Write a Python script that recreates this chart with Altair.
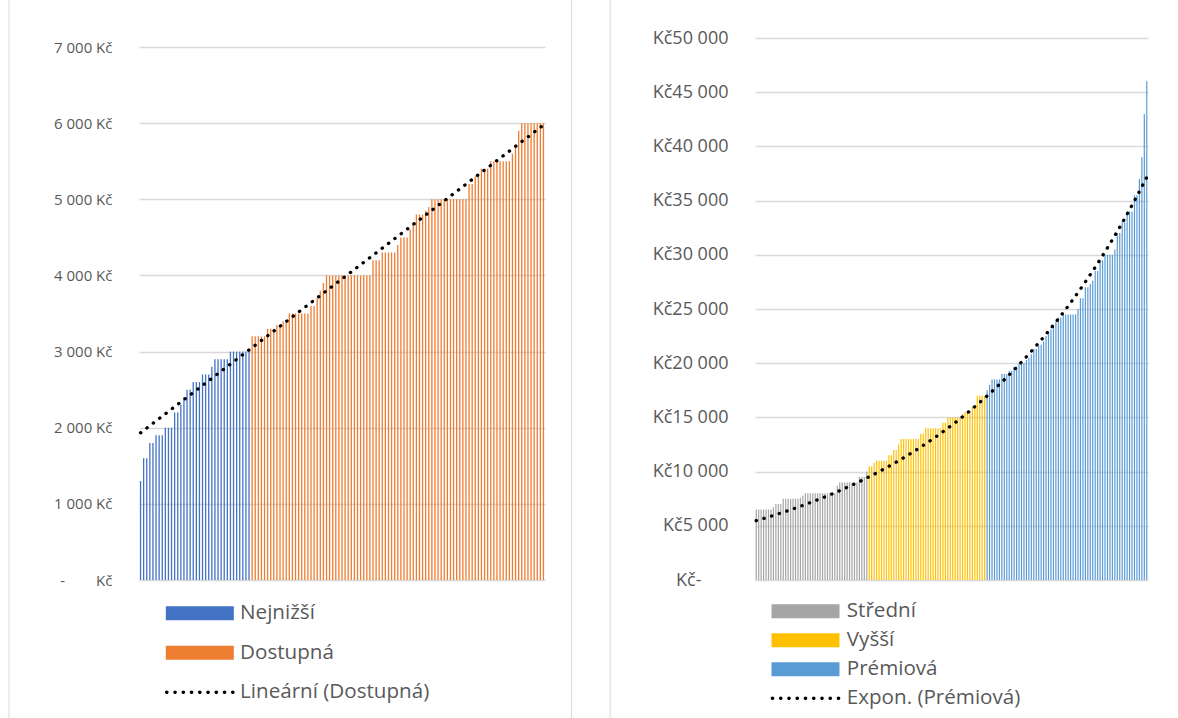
import altair as alt
import pandas as pd

# ---------------- data ----------------
left_nejnizsi = [1300, 1600, 1600, 1800, 1800, 1900, 1900, 1900, 2000, 2000, 2000, 2200, 2200,
                 2300, 2400, 2500, 2500, 2600, 2600, 2600, 2700, 2700, 2700, 2800, 2900, 2900,
                 2900, 2900, 2900, 3000, 3000, 3000, 3000, 3000, 3000, 3000]
left_dostupna = ([3200] * 5 + [3300] * 3 + [3350] * 2 + [3400] * 2 + [3500] * 7 + [3600] * 2 +
                 [3700, 3800, 3900] + [4000] * 15 + [4200] * 3 + [4300] * 5 + [4400] +
                 [4500] * 3 + [4600, 4700] + [4800] * 3 + [4850, 4900] + [5000] * 12 +
                 [5200] * 2 + [5300] * 2 + [5400] * 3 + [5500] * 7 + [5600, 5700, 5900] + [6000] * 8)

right_stredni = ([6500] * 7 + [6700] + [7000] * 3 + [7500] * 7 + [7600, 7800] + [8000] * 13 +
                 [8700] + [9000] * 8 + [9500] * 3 + [10000])
right_vyssi = ([10500, 10500, 10800, 11000, 11000, 11000, 11000, 11000, 11500, 11500, 12000, 12000,
                12500] + [13000] * 8 + [13500] * 2 + [14000] * 7 + [14500] * 2 + [15000] * 6 +
               [15300, 15500, 15500, 15600, 16000, 16000] + [17000] * 4)
right_premiova = [17500, 18000, 18500, 18500, 18500, 18500, 19000, 19000, 19000, 19300, 19300,
                  19700, 19700, 20000, 20000, 20000, 20300, 20500, 20800, 21300, 21300, 21600,
                  21700, 22000, 22500, 22800, 23100, 23500, 23800, 24200, 24200, 24500, 24500,
                  24500, 24500, 24500, 24500, 25000, 26000, 26000, 27000, 27000, 27300, 27600,
                  28500, 28500, 29500, 29500, 30000, 30000, 30000, 30000, 30500, 32000, 32000,
                  33000, 33000, 34000, 34000, 34000, 35500, 35500, 37000, 39000, 43000, 46000]

left_names = ["Nejnižší", "Dostupná", "Lineární (Dostupná)"]
left_colors = ["#4472C4", "#ED7D31", "#000000"]
right_names = ["Střední", "Vyšší", "Prémiová", "Expon. (Prémiová)"]
right_colors = ["#A5A5A5", "#FFC000", "#5B9BD5", "#000000"]

left_ticks = list(range(0, 7001, 1000))
right_ticks = list(range(0, 50001, 5000))


def frame(groups):
    rows, k = [], 0
    for name, vals in groups:
        for v in vals:
            rows.append({"k": k, "v": v, "series": name})
            k += 1
    return pd.DataFrame(rows)


left_df = frame([(left_names[0], left_nejnizsi), (left_names[1], left_dostupna)])
right_df = frame([(right_names[0], right_stredni), (right_names[1], right_vyssi),
                  (right_names[2], right_premiova)])
nL, nR = len(left_df), len(right_df)

# ---------------- styling ----------------
FONT = "Open Sans"
GREY = "#595959"
GRID = "#D9D9D9"
NB = "\u00a0"

# legend symbols (unit = sqrt(size)/2 px = 7 px)
RECT = "M-4.857,-1H4.857V1H-4.857Z"
r = 0.257
DOTS = ""
for i in range(9):
    cx = -4.714 + i * 1.1786
    DOTS += f"M{cx - r:.3f},0a{r},{r} 0 1,0 {2 * r:.3f},0a{r},{r} 0 1,0 {-2 * r:.3f},0Z"

DASH = dict(color="black", strokeWidth=3.3, strokeDash=[0.3, 7.7], strokeCap="round")

H = 542


def legend(x, y, rowpad, offset):
    return alt.Legend(title=None, orient="none", legendX=x, legendY=y, direction="vertical",
                      symbolSize=196, symbolStrokeWidth=0, symbolOpacity=1,
                      labelFont=FONT, labelFontSize=20.6, labelColor=GREY, labelOffset=offset,
                      labelLimit=400, rowPadding=rowpad, padding=0)


def border_layer(xs):
    df = pd.DataFrame({"b": [0]})
    return [alt.Chart(df).mark_rule(color=GRID, strokeWidth=1).encode(
        x=alt.value(xv), y=alt.value(-37.5), y2=alt.value(681)) for xv in xs]


def bar_layers(df, names, colors, w, x, y):
    return [alt.Chart(df).transform_filter(alt.datum.series == nm).mark_bar(
        width=w, color=c).encode(x=x, y=y) for nm, c in zip(names, colors)]


# ---------------- left chart ----------------
xL = alt.X("k:Q", scale=alt.Scale(domain=[-0.5, nL - 0.5], nice=False, zero=False, padding=0),
           axis=None)
left_label = (f"datum.value == 0 ? '-{NB * 8}Kč' : "
              f"replace(format(datum.value, ',.0f'), ',', '{NB}') + '{NB}Kč'")
yL = alt.Y("v:Q", scale=alt.Scale(domain=[0, 7119], nice=False),
           axis=alt.Axis(values=left_ticks, labelExpr=left_label, title=None, domain=False,
                         ticks=False, grid=True, gridColor=GRID, gridWidth=1.5,
                         labelFont=FONT, labelFontSize=15, labelColor=GREY, labelPadding=27))
cL = alt.Scale(domain=left_names, range=left_colors)
sL = alt.Scale(domain=left_names, range=[RECT, RECT, DOTS])
legL = legend(50.5, 565, 18.5, 30)

bars_L = bar_layers(left_df, left_names[:2], left_colors[:2], 1.3, xL, yL)
trend_L = alt.Chart(left_df).transform_filter(
    alt.datum.series == left_names[1]
).transform_regression("k", "v", extent=[0, nL - 1]).mark_line(**DASH).encode(
    x="k:Q", y="v:Q")
leg_L = alt.Chart(pd.DataFrame({"series": left_names})).mark_point(
    opacity=0, filled=True).encode(
    color=alt.Color("series:N", scale=cL, legend=legL),
    shape=alt.Shape("series:N", scale=sL, legend=legL))

left = alt.layer(*bars_L, trend_L, leg_L, *border_layer([-130, 432.5])).properties(
    width=406, height=H)

# ---------------- right chart ----------------
xR = alt.X("k:Q", scale=alt.Scale(domain=[-0.5, nR - 0.5], nice=False, zero=False, padding=0),
           axis=None)
right_label = (f"datum.value == 0 ? 'Kč-' : "
               f"'Kč' + replace(format(datum.value, ',.0f'), ',', '{NB}')")
yR = alt.Y("v:Q", scale=alt.Scale(domain=[0, 50000], nice=False),
           axis=alt.Axis(values=right_ticks, labelExpr=right_label, title=None, domain=False,
                         ticks=False, grid=True, gridColor=GRID, gridWidth=1.5,
                         labelFont=FONT, labelFontSize=18, labelColor=GREY,
                         labelPadding={"condition": {"test": "datum.value == 0", "value": 54},
                                       "value": 27}))
cR = alt.Scale(domain=right_names, range=right_colors)
sR = alt.Scale(domain=right_names, range=[RECT, RECT, RECT, DOTS])
legR = legend(40.2, 563, 8, 31)

bars_R = bar_layers(right_df, right_names[:3], right_colors[:3], 1.2, xR, yR)
P = right_names[2]
trend_R = alt.Chart(right_df).transform_calculate(
    isb=f"datum.series == '{P}' ? 1 : 0",
    lv=f"datum.series == '{P}' ? log(datum.v) : 0",
).transform_calculate(
    kb="datum.isb * datum.k",
    kk="datum.isb * datum.k * datum.k",
    klv="datum.k * datum.lv",
).transform_joinaggregate(
    n="sum(isb)", sx="sum(kb)", sy="sum(lv)", sxx="sum(kk)", sxy="sum(klv)"
).transform_calculate(
    b="(datum.n * datum.sxy - datum.sx * datum.sy) / (datum.n * datum.sxx - datum.sx * datum.sx)"
).transform_calculate(
    a="(datum.sy - datum.b * datum.sx) / datum.n"
).transform_calculate(
    fit="exp(datum.a + datum.b * datum.k)"
).mark_line(**DASH).encode(x="k:Q", y="fit:Q")
leg_R = alt.Chart(pd.DataFrame({"series": right_names})).mark_point(
    opacity=0, filled=True).encode(
    color=alt.Color("series:N", scale=cR, legend=legR),
    shape=alt.Shape("series:N", scale=sR, legend=legR))

right = alt.layer(*bars_R, trend_R, leg_R, *border_layer([-144.8])).properties(
    width=393, height=H)

chart = alt.hconcat(left, right, spacing=210, bounds="flush").resolve_scale(
    color="independent", shape="independent", x="independent", y="independent"
).resolve_legend(color="independent", shape="independent").properties(
    padding={"left": 8, "top": 0, "right": 0, "bottom": 0}
).configure_view(stroke=None)

chart.save("out.html", embed_options={"renderer": "svg", "actions": False})
